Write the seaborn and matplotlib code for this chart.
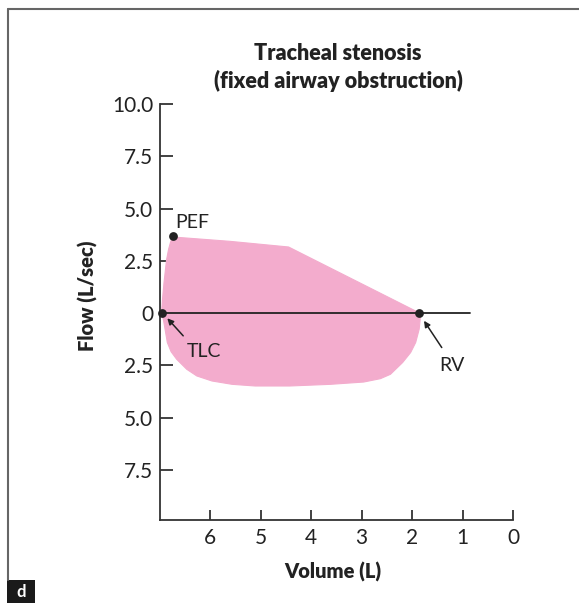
import matplotlib
matplotlib.use("Agg")
import matplotlib.pyplot as plt
import seaborn as sns
import pandas as pd
from matplotlib.lines import Line2D
from matplotlib.patches import Rectangle

# ---------------- data ----------------
# expiratory limb (upper, positive flow), TLC -> PEF -> RV
exp_volume = [6.97, 6.95, 6.92, 6.87, 6.83, 6.79, 6.75, 6.70, 5.61, 4.45, 1.85]
exp_flow = [0.0, 0.67, 1.47, 2.55, 3.05, 3.40, 3.62, 3.63, 3.43, 3.16, 0.0]
# inspiratory limb (lower, negative flow), TLC -> RV
insp_volume = [6.97, 6.93, 6.90, 6.855, 6.78, 6.67, 6.47, 6.27, 5.97, 5.57, 5.11,
               4.43, 3.62, 2.96, 2.63, 2.43, 2.19, 2.03, 1.93, 1.86, 1.84, 1.85]
insp_flow = [0.0, -0.35, -0.77, -1.41, -1.85, -2.21, -2.69, -3.01, -3.25, -3.41, -3.49,
             -3.49, -3.41, -3.30, -3.14, -2.93, -2.37, -1.89, -1.41, -0.77, -0.29, 0.0]

# labelled points
point_names = ["TLC", "PEF", "RV"]
point_volume = [6.97, 6.75, 1.86]
point_flow = [0.0, 3.69, 0.0]

# zero-flow baseline extent
baseline_volume = [7.0, 0.85]
baseline_flow = [0.0, 0.0]

x_ticks = [6, 5, 4, 3, 2, 1, 0]
x_ticklabels = ["6", "5", "4", "3", "2", "1", "0"]
y_ticks = [10.0, 7.5, 5.0, 2.5, 0.0, -2.5, -5.0, -7.5]
y_ticklabels = ["10.0", "7.5", "5.0", "2.5", "0", "2.5", "5.0", "7.5"]

title_lines = ["Tracheal stenosis", "(fixed airway obstruction)"]
x_label = "Volume (L)"
y_label = "Flow (L/sec)"
panel_letter = "d"

# ---------------- styling ----------------
sns.set_theme(style="white")
plt.rcParams["font.family"] = ["Lato", "DejaVu Sans"]

PINK = "#f3accd"
INK = "#222222"
AX = "#333333"

fig = plt.figure(figsize=(5.79, 6.03), dpi=100)
ax = fig.add_axes([160 / 579, 1 - 520 / 603, (513 - 160) / 579, (520 - 104) / 603])

loop = pd.DataFrame({
    "volume": exp_volume + insp_volume[::-1],
    "flow": exp_flow + insp_flow[::-1],
})
ax.fill(loop["volume"], loop["flow"], color=PINK, lw=0, zorder=1)
sns.lineplot(data=loop, x="volume", y="flow", sort=False, estimator=None,
             color=PINK, lw=0.8, ax=ax, zorder=1)

base = pd.DataFrame({"volume": baseline_volume, "flow": baseline_flow})
sns.lineplot(data=base, x="volume", y="flow", sort=False, estimator=None,
             color=INK, lw=1.3, ax=ax, zorder=2)

pts = pd.DataFrame({"volume": point_volume, "flow": point_flow, "name": point_names})
sns.scatterplot(data=pts, x="volume", y="flow", color=INK, s=40, linewidth=0,
                ax=ax, zorder=5, clip_on=False)

# annotations
arrow_kw = dict(arrowstyle="-|>", color=INK, lw=1.1, mutation_scale=9,
                shrinkA=0, shrinkB=0)
ax.text(6.70, 4.05, "PEF", fontsize=14, color=INK, ha="left", va="baseline")
ax.annotate("", xy=(6.855, -0.25), xytext=(6.54, -1.09), arrowprops=arrow_kw)
ax.text(6.47, -2.08, "TLC", fontsize=14, color=INK, ha="left", va="baseline")
ax.annotate("", xy=(1.765, -0.37), xytext=(1.413, -1.65), arrowprops=arrow_kw)
ax.text(1.47, -2.77, "RV", fontsize=14, color=INK, ha="left", va="baseline")

# axes
ax.set_xlim(7.0, 0.0)
ax.set_ylim(-9.9, 10.0)
ax.set_xticks(x_ticks)
ax.set_xticklabels(x_ticklabels)
ax.set_yticks(y_ticks)
ax.set_yticklabels(y_ticklabels)
for s in ["top", "right"]:
    ax.spines[s].set_visible(False)
for s in ["left", "bottom"]:
    ax.spines[s].set_color(AX)
    ax.spines[s].set_linewidth(1.3)
ax.tick_params(axis="y", direction="in", length=9.5, width=1.3, color=AX,
               pad=5, labelsize=15, labelcolor=INK, left=True)
ax.tick_params(axis="x", direction="in", length=7, width=1.3, color=AX,
               pad=6, labelsize=15, labelcolor=INK, bottom=True)
ax.set_xlabel(x_label, fontsize=14.5, fontweight="heavy", color=INK)
ax.set_ylabel(y_label, fontsize=14.5, fontweight="heavy", color=INK)
ax.xaxis.set_label_coords(0.49, -0.1)
ax.yaxis.set_label_coords(-0.175, 0.538)
ax.patch.set_alpha(0)

# title
fig.text(338 / 579, 1 - 54 / 603, title_lines[0], fontsize=15.5, fontweight="heavy",
         color=INK, ha="center", va="center")
fig.text(338 / 579, 1 - 81 / 603, title_lines[1], fontsize=15.5, fontweight="heavy",
         color=INK, ha="center", va="center")

# figure frame lines and panel letter box
fig.add_artist(Line2D([8 / 579, 1.0], [1 - 9 / 603, 1 - 9 / 603], color="#666666", lw=1.5))
fig.add_artist(Line2D([8 / 579, 8 / 579], [1 - 9 / 603, 23 / 603], color="#666666", lw=1.5))
fig.add_artist(Rectangle((7 / 579, 0), 28 / 579, 23 / 603, transform=fig.transFigure,
                         color="#1a1a1a", lw=0))
fig.text(21 / 579, 11 / 603, panel_letter, fontsize=12, fontweight="bold",
         color="white", ha="center", va="center")

fig.savefig("out.png", dpi=100)
